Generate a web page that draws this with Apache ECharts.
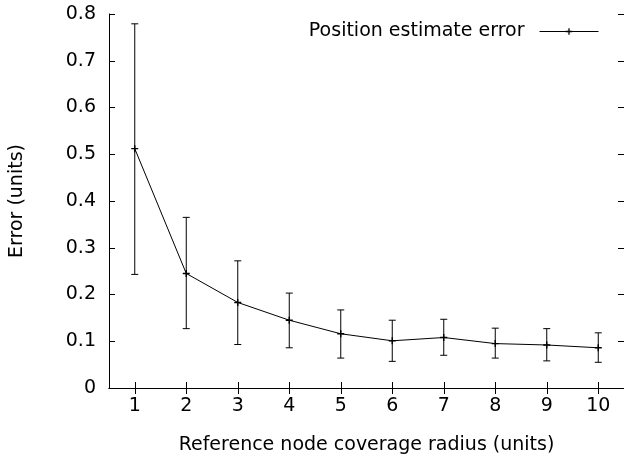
<!DOCTYPE html>
<html>
<head>
<meta charset="utf-8">
<script src="https://cdn.jsdelivr.net/npm/echarts@6/dist/echarts.min.js"></script>
<style>
  html, body { margin: 0; padding: 0; background: #fff; }
  #chart { width: 624px; height: 460px; }
</style>
</head>
<body>
<div id="chart"></div>
<script>
// radius categories (x axis)
var radius = ['1', '2', '3', '4', '5', '6', '7', '8', '9', '10'];
// mean position estimate error
var errMean = [0.512, 0.245, 0.183, 0.145, 0.116, 0.101, 0.108, 0.095, 0.092, 0.086];
// error bar ends
var errLow = [0.243, 0.127, 0.093, 0.086, 0.064, 0.057, 0.070, 0.064, 0.058, 0.055];
var errHigh = [0.779, 0.365, 0.272, 0.203, 0.167, 0.145, 0.147, 0.128, 0.127, 0.118];
var yTicks = [0, 0.8, 0.1]; // min, max, step

var font = 'DejaVu Sans';
var fs = 19;
var plus = 'path://M4,0 H6 V4 H10 V6 H6 V10 H4 V6 H0 V4 H4 Z';

var barData = radius.map(function (r, i) {
    return [i, errLow[i], errHigh[i]];
});

var myChart = echarts.init(document.getElementById('chart'), null, {renderer: 'canvas'});

var frameAxis = {
    axisLine: {show: true, lineStyle: {color: '#000', width: 1}},
    axisTick: {show: true, inside: true, length: 6, lineStyle: {color: '#000', width: 1}},
    splitLine: {show: false}
};

var option = {
    animation: false,
    backgroundColor: '#fff',
    textStyle: {fontFamily: font, color: '#000'},
    grid: {left: 108, top: 14, width: 518, height: 375},
    legend: {
        data: ['Position estimate error'],
        right: 25,
        top: 22,
        padding: 0,
        align: 'right',
        itemWidth: 59,
        itemHeight: 8,
        lineStyle: {width: 1},
        textStyle: {fontFamily: font, fontSize: fs, color: '#000', padding: [0, 10, 0, 0]}
    },
    xAxis: [
        Object.assign({
            type: 'category',
            data: radius,
            boundaryGap: true,
            position: 'bottom',
            name: 'Reference node coverage radius (units)',
            nameLocation: 'middle',
            nameGap: 48,
            nameTextStyle: {fontFamily: font, fontSize: fs, color: '#000'},
            axisLabel: {fontFamily: font, fontSize: fs, color: '#000', margin: 9}
        }, frameAxis, {
            axisTick: {show: true, inside: true, length: 6, alignWithLabel: true, lineStyle: {color: '#000', width: 1}}
        }),
        Object.assign({
            type: 'category',
            data: radius,
            boundaryGap: true,
            position: 'top',
            axisLabel: {show: false}
        }, frameAxis, {
            axisTick: {show: true, inside: true, length: 6, alignWithLabel: true, lineStyle: {color: '#000', width: 1}}
        })
    ],
    yAxis: [
        Object.assign({
            type: 'value',
            min: yTicks[0],
            max: yTicks[1],
            interval: yTicks[2],
            position: 'left',
            name: 'Error (units)',
            nameLocation: 'middle',
            nameGap: 82,
            nameRotate: 90,
            nameTextStyle: {fontFamily: font, fontSize: fs, color: '#000'},
            axisLabel: {fontFamily: font, fontSize: fs, color: '#000', margin: 13}
        }, frameAxis),
        Object.assign({
            type: 'value',
            min: yTicks[0],
            max: yTicks[1],
            interval: yTicks[2],
            position: 'right',
            axisLabel: {show: false}
        }, frameAxis)
    ],
    series: [
        {
            // error bars
            type: 'custom',
            name: 'bars',
            xAxisIndex: 0,
            yAxisIndex: 0,
            data: barData,
            renderItem: function (params, api) {
                var lo = api.coord([api.value(0), api.value(1)]);
                var hi = api.coord([api.value(0), api.value(2)]);
                var cap = 3.5;
                var st = {stroke: '#000', lineWidth: 1};
                return {
                    type: 'group',
                    children: [
                        {type: 'line', shape: {x1: lo[0], y1: lo[1], x2: hi[0], y2: hi[1]}, style: st},
                        {type: 'line', shape: {x1: lo[0] - cap, y1: lo[1], x2: lo[0] + cap, y2: lo[1]}, style: st},
                        {type: 'line', shape: {x1: hi[0] - cap, y1: hi[1], x2: hi[0] + cap, y2: hi[1]}, style: st}
                    ]
                };
            },
            z: 2
        },
        {
            type: 'line',
            name: 'Position estimate error',
            data: errMean,
            symbol: plus,
            symbolSize: 7,
            showSymbol: true,
            itemStyle: {color: '#000'},
            lineStyle: {color: '#000', width: 1},
            z: 3
        }
    ]
};

myChart.setOption(option);
</script>
</body>
</html>
